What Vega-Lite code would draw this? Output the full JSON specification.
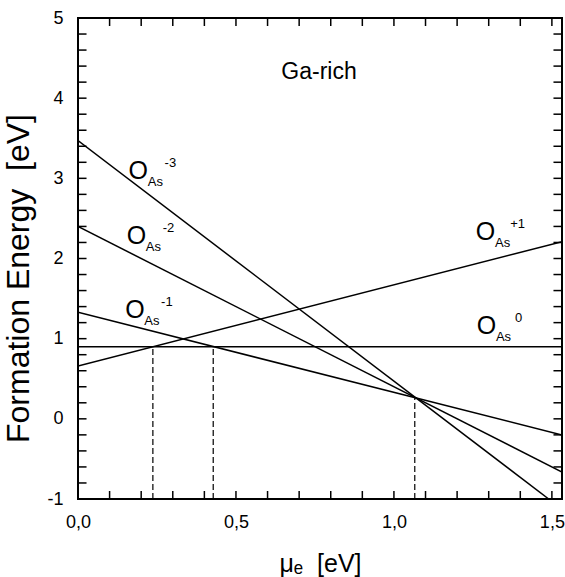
{
  "$schema": "https://vega.github.io/schema/vega-lite/v6.json",
  "width": 484,
  "height": 481,
  "autosize": "none",
  "padding": {"left": 78, "top": 18, "right": 3, "bottom": 78},
  "background": "white",
  "config": {
    "view": {"stroke": "black", "strokeWidth": 2},
    "font": "Liberation Sans"
  },
  "datasets": {
    "lines": [
      {"s": "m3", "x": 0, "y": 3.47},
      {"s": "m3", "x": 1.49, "y": -1},
      {"s": "m2", "x": 0, "y": 2.4},
      {"s": "m2", "x": 1.532, "y": -0.664},
      {"s": "m1", "x": 0, "y": 1.33},
      {"s": "m1", "x": 1.532, "y": -0.202},
      {"s": "p1", "x": 0, "y": 0.66},
      {"s": "p1", "x": 1.532, "y": 2.21},
      {"s": "z", "x": 0, "y": 0.9},
      {"s": "z", "x": 1.532, "y": 0.9}
    ],
    "dashed": [
      {"s": "a", "x": 0.237, "y": -1},
      {"s": "a", "x": 0.237, "y": 0.9},
      {"s": "b", "x": 0.428, "y": -1},
      {"s": "b", "x": 0.428, "y": 0.9},
      {"s": "c", "x": 1.066, "y": -1},
      {"s": "c", "x": 1.066, "y": 0.27}
    ],
    "labels": [
      {"c": "-3", "x": 0.191, "y": 3.091},
      {"c": "-2", "x": 0.185, "y": 2.281},
      {"c": "-1", "x": 0.18, "y": 1.357},
      {"c": "+1", "x": 1.29, "y": 2.33},
      {"c": "0", "x": 1.293, "y": 1.158}
    ],
    "note": [
      {"t": "Ga-rich", "x": 0.763, "y": 4.326}
    ],
    "xt": [
      {"v": 0.1}, {"v": 0.2}, {"v": 0.3}, {"v": 0.4}, {"v": 0.5}, {"v": 0.6}, {"v": 0.7},
      {"v": 0.8}, {"v": 0.9}, {"v": 1.0}, {"v": 1.1}, {"v": 1.2}, {"v": 1.3}, {"v": 1.4}, {"v": 1.5}
    ],
    "yt": [
      {"v": -0.8}, {"v": -0.6}, {"v": -0.4}, {"v": -0.2}, {"v": 0}, {"v": 0.2}, {"v": 0.4}, {"v": 0.6},
      {"v": 0.8}, {"v": 1}, {"v": 1.2}, {"v": 1.4}, {"v": 1.6}, {"v": 1.8}, {"v": 2}, {"v": 2.2},
      {"v": 2.4}, {"v": 2.6}, {"v": 2.8}, {"v": 3}, {"v": 3.2}, {"v": 3.4}, {"v": 3.6}, {"v": 3.8},
      {"v": 4}, {"v": 4.2}, {"v": 4.4}, {"v": 4.6}, {"v": 4.8}
    ]
  },
  "layer": [
    {
      "data": {"name": "lines"},
      "mark": {"type": "line", "color": "black", "strokeWidth": 1.5, "clip": true},
      "encoding": {
        "x": {
          "field": "x", "type": "quantitative",
          "scale": {"domain": [0, 1.532], "nice": false, "zero": false},
          "axis": {
            "orient": "bottom",
            "grid": false,
            "domain": false,
            "ticks": false,
            "values": [0, 0.5, 1.0, 1.5],
            "labelExpr": "replace(format(datum.value, '.1f'), '.', ',')",
            "labelPadding": 14,
            "labelColor": "black",
            "labelFont": "Liberation Sans",
            "labelFontSize": 18,
            "labelOverlap": false,
            "labelFlush": false,
            "title": "μₑ\u00a0\u00a0[eV]",
            "titleColor": "black",
            "titleFont": "Liberation Sans",
            "titleFontWeight": "normal",
            "titleFontSize": 25,
            "titleBaseline": "middle",
            "titleY": 64
          }
        },
        "y": {
          "field": "y", "type": "quantitative",
          "scale": {"domain": [-1, 5], "nice": false, "zero": false},
          "axis": {
            "orient": "left",
            "grid": false,
            "domain": false,
            "ticks": false,
            "values": [-1, 0, 1, 2, 3, 4, 5],
            "labelExpr": "'' + round(datum.value)",
            "labelPadding": 15,
            "labelBaseline": "middle",
            "labelColor": "black",
            "labelFont": "Liberation Sans",
            "labelFontSize": 18,
            "labelOverlap": false,
            "labelFlush": false,
            "title": "Formation Energy\u00a0\u00a0[eV]",
            "titleColor": "black",
            "titleFont": "Liberation Sans",
            "titleFontWeight": "normal",
            "titleFontSize": 32,
            "titleBaseline": "middle",
            "titleX": -60,
            "titleY": 260
          }
        },
        "detail": {"field": "s"}
      }
    },
    {
      "data": {"name": "dashed"},
      "mark": {"type": "line", "color": "black", "strokeWidth": 1.2, "strokeDash": [6, 3]},
      "encoding": {
        "x": {"field": "x", "type": "quantitative", "axis": null},
        "y": {"field": "y", "type": "quantitative", "axis": null},
        "detail": {"field": "s"}
      }
    },
    {
      "data": {"name": "xt"},
      "mark": {"type": "rule", "color": "black", "strokeWidth": 1.5},
      "encoding": {
        "x": {"field": "v", "type": "quantitative", "axis": null},
        "y": {"datum": -1, "type": "quantitative", "axis": null},
        "y2": {"datum": -0.9}
      }
    },
    {
      "data": {"name": "xt"},
      "mark": {"type": "rule", "color": "black", "strokeWidth": 1.5},
      "encoding": {
        "x": {"field": "v", "type": "quantitative", "axis": null},
        "y": {"datum": 5, "type": "quantitative", "axis": null},
        "y2": {"datum": 4.9}
      }
    },
    {
      "data": {"name": "yt"},
      "mark": {"type": "rule", "color": "black", "strokeWidth": 1.5},
      "encoding": {
        "y": {"field": "v", "type": "quantitative", "axis": null},
        "x": {"datum": 0, "type": "quantitative", "axis": null},
        "x2": {"datum": 0.027}
      }
    },
    {
      "data": {"name": "yt"},
      "mark": {"type": "rule", "color": "black", "strokeWidth": 1.5},
      "encoding": {
        "y": {"field": "v", "type": "quantitative", "axis": null},
        "x": {"datum": 1.532, "type": "quantitative", "axis": null},
        "x2": {"datum": 1.505}
      }
    },
    {
      "data": {"name": "note"},
      "mark": {"type": "text", "fontSize": 23, "align": "center", "baseline": "middle", "color": "black"},
      "encoding": {
        "x": {"field": "x", "type": "quantitative", "axis": null},
        "y": {"field": "y", "type": "quantitative", "axis": null},
        "text": {"field": "t"}
      }
    },
    {
      "data": {"name": "labels"},
      "mark": {"type": "text", "text": "O", "fontSize": 25, "align": "center", "baseline": "middle", "color": "black"},
      "encoding": {
        "x": {"field": "x", "type": "quantitative", "axis": null},
        "y": {"field": "y", "type": "quantitative", "axis": null}
      }
    },
    {
      "data": {"name": "labels"},
      "mark": {"type": "text", "text": "As", "fontSize": 13, "align": "center", "baseline": "middle", "dx": 17, "dy": 11, "color": "black"},
      "encoding": {
        "x": {"field": "x", "type": "quantitative", "axis": null},
        "y": {"field": "y", "type": "quantitative", "axis": null}
      }
    },
    {
      "data": {"name": "labels"},
      "mark": {"type": "text", "fontSize": 13, "align": "center", "baseline": "middle", "dx": 32, "dy": -8, "color": "black"},
      "encoding": {
        "x": {"field": "x", "type": "quantitative", "axis": null},
        "y": {"field": "y", "type": "quantitative", "axis": null},
        "text": {"field": "c"}
      }
    }
  ],
  "resolve": {"axis": {"x": "independent", "y": "independent"}}
}
